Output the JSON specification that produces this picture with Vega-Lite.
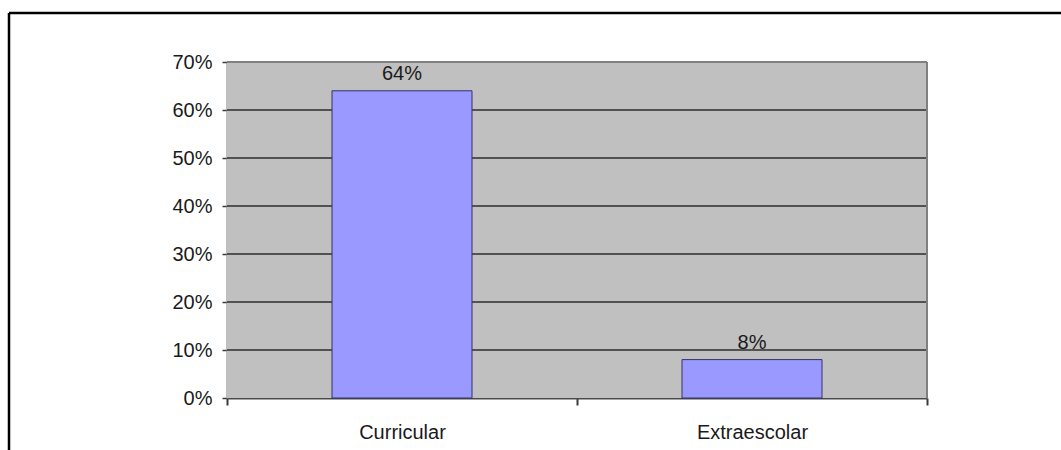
{
  "$schema": "https://vega.github.io/schema/vega-lite/v6.json",
  "width": 1052,
  "height": 437,
  "autosize": {"type": "none"},
  "padding": {"left": 9, "top": 13, "right": 0, "bottom": 0},
  "background": "#ffffff",
  "datasets": {
    "uso": [
      {"categoria": "Curricular", "porcentaje": 0.64},
      {"categoria": "Extraescolar", "porcentaje": 0.08}
    ],
    "lineas": [
      {"nivel": 0.1}, {"nivel": 0.2}, {"nivel": 0.3},
      {"nivel": 0.4}, {"nivel": 0.5}, {"nivel": 0.6}
    ],
    "marco": [{}]
  },
  "config": {
    "view": {"stroke": null},
    "font": "Liberation Sans",
    "axis": {
      "grid": false,
      "zindex": 1,
      "labelFont": "Liberation Sans",
      "labelFontSize": 20,
      "labelColor": "#1a1a1a"
    },
    "axisX": {
      "offset": -52,
      "tickBand": "extent",
      "tickSize": 7,
      "tickWidth": 2,
      "tickColor": "#3a3a3a",
      "domainColor": "#4a4a4a",
      "domainWidth": 2,
      "labelPadding": 17,
      "labelAngle": 0
    },
    "axisY": {
      "offset": -218,
      "tickSize": 5,
      "tickWidth": 1.5,
      "tickColor": "#3a3a3a",
      "domainColor": "#808080",
      "domainWidth": 2,
      "labelPadding": 10
    }
  },
  "resolve": {"scale": {"x": "independent", "y": "independent"}},
  "layer": [
    {
      "data": {"name": "marco"},
      "mark": {"type": "rule", "color": "#000000", "strokeWidth": 2.5},
      "encoding": {
        "y": {"datum": 1, "type": "quantitative", "scale": {"domain": [0, 1]}, "axis": null}
      }
    },
    {
      "data": {"name": "marco"},
      "mark": {"type": "rule", "color": "#000000", "strokeWidth": 2.5},
      "encoding": {
        "x": {"datum": 0, "type": "quantitative", "scale": {"domain": [0, 1]}, "axis": null}
      }
    },
    {
      "layer": [
        {
          "data": {"name": "uso"},
          "mark": {"type": "rect", "fill": "#c0c0c0"},
          "encoding": {
            "x": {
              "field": "categoria",
              "type": "nominal",
              "title": null,
              "scale": {
                "domain": ["Curricular", "Extraescolar"],
                "range": [218, 918],
                "paddingInner": 0,
                "paddingOuter": 0
              },
              "axis": {"orient": "bottom"}
            },
            "y": {
              "datum": 0,
              "type": "quantitative",
              "scale": {"domain": [0, 0.7], "range": [385, 49], "zero": false, "nice": false},
              "axis": {"orient": "left", "values": [0, 0.1, 0.2, 0.3, 0.4, 0.5, 0.6, 0.7], "format": ".0%"}
            },
            "y2": {"datum": 0.7}
          }
        },
        {
          "data": {"name": "lineas"},
          "mark": {"type": "rule", "color": "#2e2e2e", "strokeWidth": 1.5},
          "encoding": {
            "x": {"datum": "Curricular", "type": "nominal", "bandPosition": 0},
            "x2": {"datum": "Extraescolar", "bandPosition": 1},
            "y": {"field": "nivel", "type": "quantitative", "title": null}
          }
        },
        {
          "data": {"name": "marco"},
          "mark": {"type": "rule", "color": "#808080", "strokeWidth": 2},
          "encoding": {
            "x": {"datum": "Curricular", "type": "nominal", "bandPosition": 0},
            "x2": {"datum": "Extraescolar", "bandPosition": 1},
            "y": {"datum": 0.7, "type": "quantitative"}
          }
        },
        {
          "data": {"name": "marco"},
          "mark": {"type": "rule", "color": "#808080", "strokeWidth": 2},
          "encoding": {
            "x": {"datum": "Extraescolar", "type": "nominal", "bandPosition": 1},
            "y": {"datum": 0, "type": "quantitative"},
            "y2": {"datum": 0.7}
          }
        },
        {
          "data": {"name": "uso"},
          "mark": {"type": "bar", "width": {"band": 0.4}, "fill": "#9999ff", "stroke": "#333366", "strokeWidth": 1, "opacity": 1},
          "encoding": {
            "x": {"field": "categoria", "type": "nominal", "title": null},
            "y": {"field": "porcentaje", "type": "quantitative", "title": null}
          }
        },
        {
          "data": {"name": "uso"},
          "mark": {"type": "text", "baseline": "alphabetic", "dy": -11, "fontSize": 20, "font": "Liberation Sans", "color": "#1a1a1a"},
          "encoding": {
            "x": {"field": "categoria", "type": "nominal", "title": null},
            "y": {"field": "porcentaje", "type": "quantitative", "title": null},
            "text": {"field": "porcentaje", "type": "quantitative", "format": ".0%"}
          }
        }
      ]
    }
  ]
}
